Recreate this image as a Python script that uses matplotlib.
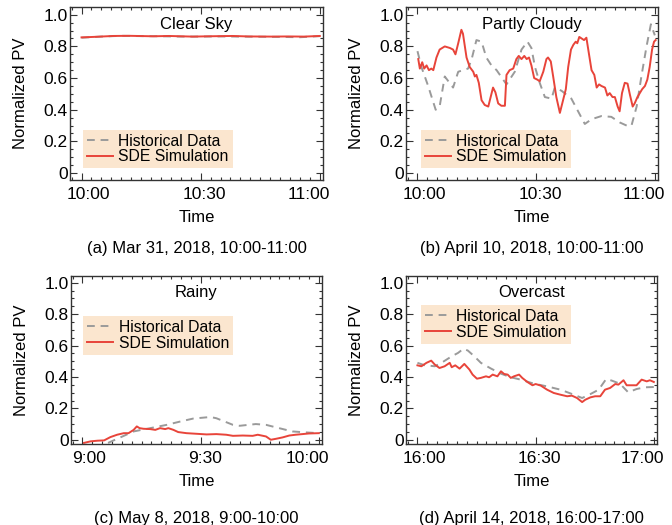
import numpy as np
import matplotlib.pyplot as plt
from matplotlib.ticker import MultipleLocator, FixedLocator, FixedFormatter
from matplotlib.transforms import ScaledTranslation

plt.rcParams['font.family'] = ['Liberation Sans', 'DejaVu Sans']
plt.rcParams['font.size'] = 12

# (a) 晴天
a_hist_t = [0, 5, 10, 15, 20, 25, 30, 35, 40, 45, 50, 55, 60]
a_hist_v = [0.855, 0.862, 0.867, 0.865, 0.864, 0.862, 0.862, 0.863, 0.862, 0.861, 0.860, 0.858, 0.865]
a_sde_t = [0, 3, 8, 12, 18, 22, 28, 32, 38, 42, 48, 52, 56, 60]
a_sde_v = [0.857, 0.860, 0.866, 0.867, 0.864, 0.866, 0.862, 0.864, 0.866, 0.863, 0.862, 0.863, 0.862, 0.866]

# (b) 多云
b_hist_t = [0, 1, 2.7, 4.6, 5.6, 6.9, 7.8, 9.0, 10.3, 12.8, 13.7, 14.9, 16.2, 17.4, 18.7, 20, 22.5, 24.6,
            26.3, 27.8, 28.8, 29.7, 30.9, 32.2, 33.9, 34.7, 36.4, 38.9, 40.6, 42.3, 44, 46.5, 49, 51.1,
            53.3, 54.1, 55.4, 56.6, 57.9, 59, 60]
b_hist_v = [0.77, 0.67, 0.55, 0.40, 0.42, 0.61, 0.58, 0.54, 0.64, 0.66, 0.72, 0.84, 0.83, 0.73, 0.68, 0.65,
            0.56, 0.64, 0.78, 0.83, 0.79, 0.67, 0.57, 0.48, 0.47, 0.54, 0.52, 0.47, 0.39, 0.31, 0.34, 0.36,
            0.355, 0.32, 0.295, 0.30, 0.42, 0.61, 0.80, 0.94, 0.87]
b_sde_t = [0.2, 0.6, 1.2, 1.7, 2.3, 2.9, 3.5, 4.0, 4.8, 5.6, 6.9, 8.2, 9.0, 9.6, 10.3, 11.1, 11.5, 12.4,
           13.2, 14.1, 14.5, 14.9, 15.5, 16.2, 17.0, 17.9, 18.5, 19.1, 19.7, 20.4, 21.2, 22.1, 22.5, 23.3,
           24.2, 25, 25.6, 26.3, 27, 27.6, 28.2, 28.8, 29.5, 30.3, 30.9, 31.8, 32.6, 33.0, 33.7, 34.3,
           35.1, 36.0, 36.8, 37.5, 38.1, 38.8, 39.4, 40.0, 40.4, 40.9, 41.5, 42.1, 42.7, 43.3, 44, 44.7,
           45.3, 45.9, 46.5, 47.4, 48.0, 48.6, 49.3, 49.9, 50.6, 51.1, 51.7, 52.4, 53.1, 53.7, 54.4, 54.9,
           55.6, 56.2, 56.8, 57.5, 58.1, 58.7, 59.3, 59.8, 60.2]
b_sde_v = [0.72, 0.66, 0.70, 0.66, 0.68, 0.65, 0.66, 0.65, 0.73, 0.78, 0.80, 0.79, 0.78, 0.75, 0.82, 0.905,
           0.88, 0.73, 0.67, 0.64, 0.61, 0.62, 0.57, 0.46, 0.43, 0.42, 0.48, 0.54, 0.51, 0.44, 0.425, 0.425,
           0.62, 0.65, 0.66, 0.72, 0.74, 0.72, 0.74, 0.72, 0.73, 0.68, 0.60, 0.59, 0.58, 0.64, 0.72, 0.73,
           0.705, 0.61, 0.48, 0.38, 0.46, 0.53, 0.67, 0.78, 0.81, 0.83, 0.82, 0.86, 0.85, 0.84, 0.855, 0.76,
           0.65, 0.62, 0.54, 0.56, 0.55, 0.54, 0.49, 0.505, 0.48, 0.48, 0.42, 0.39, 0.505, 0.57, 0.565,
           0.495, 0.42, 0.44, 0.48, 0.505, 0.53, 0.55, 0.59, 0.67, 0.78, 0.83, 0.84]

# (c) 雨天
c_hist_t = [6.5, 13, 17.2, 21.4, 24.8, 28.1, 32.5, 34, 38.2, 39.9, 44, 46.6, 49.9, 53.3, 56.6, 60]
c_hist_v = [-0.02, 0.053, 0.074, 0.095, 0.116, 0.135, 0.145, 0.137, 0.095, 0.089, 0.10, 0.095, 0.074,
            0.053, 0.047, 0.042]
c_sde_t = [0.4, 2.1, 3.8, 5.5, 7.1, 8.8, 10.5, 11.7, 13, 13.8, 14.5, 15.5, 17.2, 18.5, 19.7, 21, 21.8,
           23.1, 24.3, 26.4, 29, 31.5, 34, 36.5, 38.2, 40.7, 43.2, 44.5, 46.6, 47.8, 49.1, 50.8, 52.5,
           54.1, 55.8, 57.5, 60]
c_sde_v = [-0.02, -0.01, -0.006, -0.004, 0.017, 0.032, 0.042, 0.042, 0.063, 0.085, 0.074, 0.07, 0.068,
           0.063, 0.074, 0.068, 0.074, 0.063, 0.049, 0.042, 0.038, 0.034, 0.036, 0.032, 0.025, 0.027,
           0.025, 0.032, 0.021, 0.0, 0.006, 0.015, 0.027, 0.032, 0.036, 0.04, 0.042]

# (d) 阴天
d_hist_t = [0, 1.8, 4.4, 6.1, 8.6, 10.3, 11.7, 12.8, 14.5, 16.1, 18.7, 21.2, 23.7, 26.2, 29.6, 32.9,
            36.3, 39.7, 41.8, 43.9, 46, 47.9, 49.3, 51.4, 53.5, 55.6, 57.7, 60]
d_hist_v = [0.49, 0.475, 0.468, 0.49, 0.53, 0.553, 0.58, 0.568, 0.53, 0.49, 0.453, 0.421, 0.398, 0.383,
            0.357, 0.34, 0.319, 0.287, 0.266, 0.291, 0.319, 0.387, 0.377, 0.357, 0.302, 0.323, 0.334, 0.336]
d_sde_t = [0, 1, 2.3, 3.5, 4.4, 5.6, 6.9, 8.2, 8.7, 9.6, 10.7, 11.9, 13.2, 14, 15.1, 16.1, 17.4, 18.2,
           19.1, 20.3, 21.2, 22, 22.9, 23.7, 24.5, 25.8, 26.6, 27.9, 29.2, 30, 31.3, 32.9, 34.6, 36.3,
           38, 39.2, 40.5, 41.8, 42.6, 43.9, 45.1, 46.4, 47.6, 48.9, 50.2, 51, 52.3, 53.1, 54.4, 55.6,
           56.9, 58.2, 59, 60]
d_sde_v = [0.474, 0.468, 0.49, 0.504, 0.479, 0.457, 0.468, 0.49, 0.462, 0.474, 0.453, 0.483, 0.447,
           0.415, 0.389, 0.394, 0.404, 0.398, 0.415, 0.404, 0.436, 0.419, 0.415, 0.394, 0.404, 0.415,
           0.394, 0.368, 0.347, 0.355, 0.345, 0.319, 0.298, 0.287, 0.277, 0.281, 0.266, 0.24, 0.255,
           0.27, 0.277, 0.277, 0.319, 0.33, 0.355, 0.351, 0.379, 0.347, 0.347, 0.347, 0.383, 0.372,
           0.379, 0.368]

titles = ['Clear Sky', 'Partly Cloudy', 'Rainy', 'Overcast']
captions = ['(a) Mar 31, 2018, 10:00-11:00', '(b) April 10, 2018, 10:00-11:00',
            '(c) May 8, 2018, 9:00-10:00', '(d) April 14, 2018, 16:00-17:00']
xticklabels = [['10:00', '10:30', '11:00'], ['10:00', '10:30', '11:00'],
               ['9:00', '9:30', '10:00'], ['16:00', '16:30', '17:00']]
yticks = [0, 0.2, 0.4, 0.6, 0.8, 1.0]
yticklabels = ['0', '0.2', '0.4', '0.6', '0.8', '1.0']

series = [(a_hist_t, a_hist_v, a_sde_t, a_sde_v),
          (b_hist_t, b_hist_v, b_sde_t, b_sde_v),
          (c_hist_t, c_hist_v, c_sde_t, c_sde_v),
          (d_hist_t, d_hist_v, d_sde_t, d_sde_v)]

red = '#E8443A'
gray = '#9A9A9A'
legend_bg = '#FBE6CF'
frame = '#333333'

fig = plt.figure(figsize=(6.72, 5.25), dpi=100)
W, H = 672, 525
# 各子图位置（像素）：左、上、右、下
boxes = [(70, 7, 323, 180), (406, 7, 658, 180), (71, 276, 322, 444), (406, 276, 657, 444)]
# 图例位置（轴坐标）
leg_pos = [('lower left', (0.051, 0.068)), ('lower left', (0.06, 0.068)),
           ('upper left', (0.049, 0.762)), ('upper left', (0.06, 0.827))]
# x 刻度标签水平偏移（像素）
label_shift = [7, 4, -11]

for i in range(4):
    l, t, r, b = boxes[i]
    ax = fig.add_axes([l / W, 1 - b / H, (r - l) / W, (b - t) / H])
    ht, hv, st, sv = series[i]
    ax.plot(ht, hv, color=gray, lw=1.4, ls=(0, (4, 3)), label='Historical Data')
    ax.plot(st, sv, color=red, lw=1.4, label='SDE Simulation')
    ax.set_xlim(-2.9, 60.8)
    if i < 2:
        ax.set_ylim(-0.044, 1.049)
    else:
        ax.set_ylim(-0.027, 1.043)
    ax.xaxis.set_major_locator(FixedLocator([0, 30, 60]))
    ax.xaxis.set_major_formatter(FixedFormatter(xticklabels[i]))
    ax.xaxis.set_minor_locator(MultipleLocator(2.5))
    ax.yaxis.set_major_locator(FixedLocator(yticks))
    ax.yaxis.set_major_formatter(FixedFormatter(yticklabels))
    ax.yaxis.set_minor_locator(MultipleLocator(0.05))
    ax.tick_params(which='both', direction='in', top=True, right=True, color=frame, width=0.8)
    ax.tick_params(which='major', length=5, labelsize=12.5)
    ax.tick_params(axis='x', which='major', pad=5)
    ax.tick_params(axis='y', which='major', pad=1.5)
    ax.tick_params(which='minor', length=2.5)
    for k, tk in enumerate(ax.xaxis.get_major_ticks()[:3]):
        tk.label1.set_transform(tk.label1.get_transform() +
                                ScaledTranslation(label_shift[k] / 100, 0, fig.dpi_scale_trans))
    for s in ax.spines.values():
        s.set_color(frame)
        s.set_linewidth(1.0)
    ax.set_ylabel('Normalized PV', fontsize=12, labelpad=11)
    ax.set_xlabel('Time', fontsize=12, labelpad=6)
    ax.text(0.5, 0.9, titles[i], transform=ax.transAxes, ha='center', va='center', fontsize=12)
    loc, anchor = leg_pos[i]
    ax.legend(loc=loc, bbox_to_anchor=anchor, borderaxespad=0, frameon=True, fancybox=False,
              facecolor=legend_bg, edgecolor='none', framealpha=1, fontsize=11.3,
              handlelength=1.65, handletextpad=0.35, labelspacing=0.05, borderpad=0.25)
    cx = (l + r) / 2 / W
    cy = 1 - (248 if i < 2 else 518.5) / H
    fig.text(cx, cy, captions[i], ha='center', va='center', fontsize=12)

plt.savefig('out.png', dpi=100)
